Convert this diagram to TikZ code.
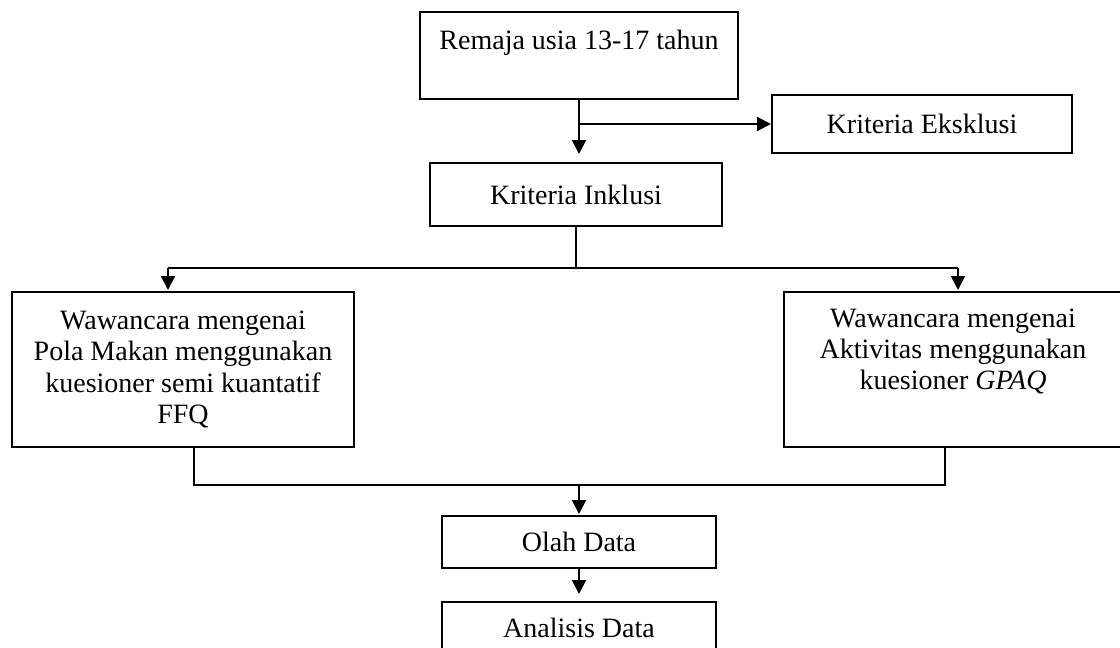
\documentclass[tikz,border=0pt]{standalone}
\usepackage{fontspec}
\setmainfont{Liberation Serif}
\usetikzlibrary{arrows.meta}
\begin{document}
\begin{tikzpicture}[x=1pt,y=-1pt,
  box/.style={draw,line width=2pt,rectangle,inner sep=0pt,align=center,
    font=\fontsize{28}{31.3}\selectfont},
  conn/.style={line width=2pt},
  arr/.style={conn,-{Triangle[length=14pt,width=14pt]}}]
\useasboundingbox (0,0) rectangle (1120,648);
\clip (0,0) rectangle (1120,648);
\fill[white] (0,0) rectangle (1120,648);
\node[box,minimum width=318pt,minimum height=87pt,text height=20pt,text depth=32pt] (rem) at (579,55.5) {Remaja usia 13-17 tahun};
\node[box,minimum width=300pt,minimum height=58pt] (eks) at (922,124) {Kriteria Eksklusi};
\node[box,minimum width=292pt,minimum height=63pt] (ink) at (576,194.5) {Kriteria Inklusi};
\node[box,minimum width=342pt,minimum height=155pt] (pola) at (183,369.5) {Wawancara mengenai\\ Pola Makan menggunakan\\ kuesioner semi kuantatif\\ FFQ};
\node[box,minimum width=338pt,minimum height=155pt] (akt) at (953,369.5) {Wawancara mengenai\\ Aktivitas menggunakan\\ kuesioner \textit{GPAQ}\\ \strut};
\node[box,minimum width=274pt,minimum height=52pt] (olah) at (579,542) {Olah Data};
\node[box,minimum width=274pt,minimum height=52pt] (anal) at (579,628) {Analisis Data};
% top connectors
\draw[arr,shorten >=8pt] (rem.south) -- (rem.south |- ink.north);
\draw[arr] (rem.south |- eks.west) -- (eks.west);
% branches
\coordinate (bl) at (168,268);
\coordinate (br) at (958,268);
\draw[conn] (ink.south) -- (ink.south |- bl);
\draw[conn] (bl) -- (br);
\draw[arr,shorten >=1pt] (bl) -- (bl |- pola.north);
\draw[arr,shorten >=1pt] (br) -- (br |- akt.north);
% merge
\coordinate (ml) at (194,485);
\coordinate (mr) at (945,485);
\draw[conn] (ml |- pola.south) -- (ml) -- (mr) -- (mr |- akt.south);
\draw[arr,shorten >=1pt] (olah.north |- ml) -- (olah.north);
\draw[arr,shorten >=7pt] (olah.south) -- (anal.north);
\end{tikzpicture}
\end{document}
